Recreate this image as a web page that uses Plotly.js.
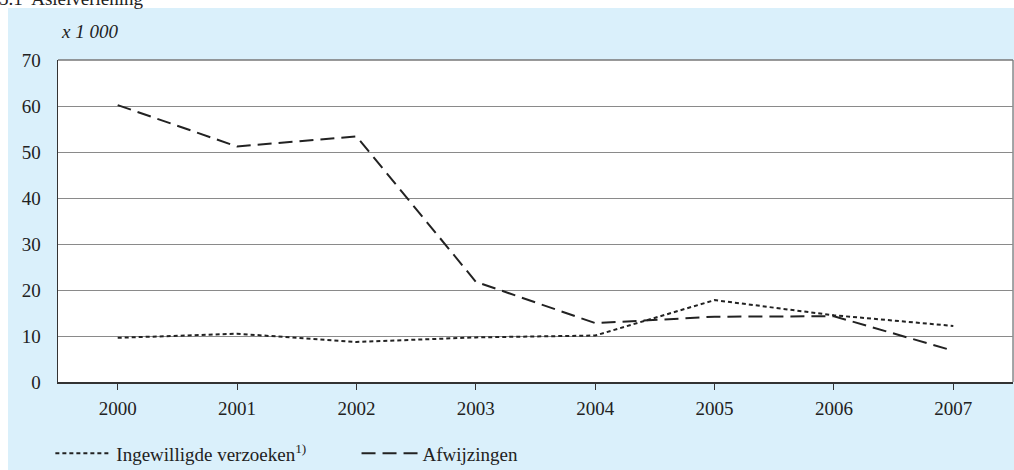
<!DOCTYPE html>
<html>
<head>
<meta charset="utf-8">
<script src="https://cdn.plot.ly/plotly-3.0.1.min.js"></script>
<style>html,body{margin:0;padding:0;background:#fff;}#chart{width:1014px;height:470px;}</style>
</head>
<body>
<div id="chart"></div>
<script>
const years = [2000, 2001, 2002, 2003, 2004, 2005, 2006, 2007];
const ingewilligd = [9.6, 10.5, 8.7, 9.7, 10.1, 17.8, 14.5, 12.2];
const afwijzingen = [60.2, 51.2, 53.4, 21.8, 12.8, 14.2, 14.3, 6.8];
const yTicks = [0, 10, 20, 30, 40, 50, 60, 70];
const seriesNames = ['Ingewilligde verzoeken<sup>1)</sup>', 'Afwijzingen'];

const FONT = 'Liberation Serif, Times New Roman, serif';
const FS = 19;
const BLUE = '#daf0fb';

const traces = [
  {x: years, y: ingewilligd, name: seriesNames[0], type: 'scatter', mode: 'lines',
   legend: 'legend', line: {color: '#222', width: 2, dash: '4px,3px'}},
  {x: years, y: afwijzingen, name: seriesNames[1], type: 'scatter', mode: 'lines',
   legend: 'legend2', line: {color: '#222', width: 2, dash: '14px,7px'}}
];

const legendBase = {orientation: 'h', yanchor: 'top', xanchor: 'left', y: -0.163,
  bgcolor: 'rgba(0,0,0,0)', font: {family: FONT, size: FS, color: '#222'}, itemwidth: 56};

const layout = {
  width: 1014, height: 470,
  margin: {l: 58, r: 1, t: 60, b: 88, autoexpand: false},
  paper_bgcolor: '#ffffff',
  plot_bgcolor: 'rgba(0,0,0,0)',
  font: {family: FONT, size: FS, color: '#222'},
  showlegend: true,
  legend: Object.assign({}, legendBase, {x: -0.008}),
  legend2: Object.assign({}, legendBase, {x: 0.3126}),
  xaxis: {range: [1999.5, 2007.5], tickvals: years, ticktext: years.map(String),
          ticks: 'outside', ticklen: 6, tickcolor: '#333', tickwidth: 1,
          showgrid: false, zeroline: false, showline: true, linecolor: '#333', linewidth: 1.5,
          mirror: false, fixedrange: true, ticklabelstandoff: 3},
  yaxis: {range: [0, 70], tickvals: yTicks, ticktext: yTicks.map(String),
          ticks: '', showgrid: true, gridcolor: '#8a8a8a', gridwidth: 1,
          zeroline: false, showline: true, linecolor: '#333', linewidth: 1.5,
          fixedrange: true, ticklabelstandoff: 12},
  shapes: [
    {type: 'rect', xref: 'paper', yref: 'paper', x0: -0.05236, x1: 1.002, y0: -0.28, y1: 1.1615,
     fillcolor: BLUE, line: {width: 0}, layer: 'below'},
    {type: 'rect', xref: 'paper', yref: 'paper', x0: 0, x1: 1, y0: 0, y1: 1,
     fillcolor: '#ffffff', line: {width: 0}, layer: 'below'},
    {type: 'line', xref: 'paper', yref: 'paper', x0: 1, x1: 1, y0: 0, y1: 1,
     line: {color: '#8a8a8a', width: 1.5}},
    {type: 'line', xref: 'paper', yref: 'paper', x0: 0, x1: 1, y0: 1, y1: 1,
     line: {color: '#777', width: 1.5}}
  ],
  annotations: [
    {text: '<i>x 1 000</i>', xref: 'paper', yref: 'paper', x: 0.001, y: 1.087,
     xanchor: 'left', yanchor: 'middle', showarrow: false,
     font: {family: FONT, size: FS, color: '#222'}},
    {text: '5.1  Asielverlening', xref: 'paper', yref: 'paper', x: -0.064, y: 1.19,
     xanchor: 'left', yanchor: 'middle', showarrow: false,
     font: {family: FONT, size: FS, color: '#222'}}
  ]
};

Plotly.newPlot('chart', traces, layout, {displayModeBar: false, staticPlot: true});
</script>
</body>
</html>
